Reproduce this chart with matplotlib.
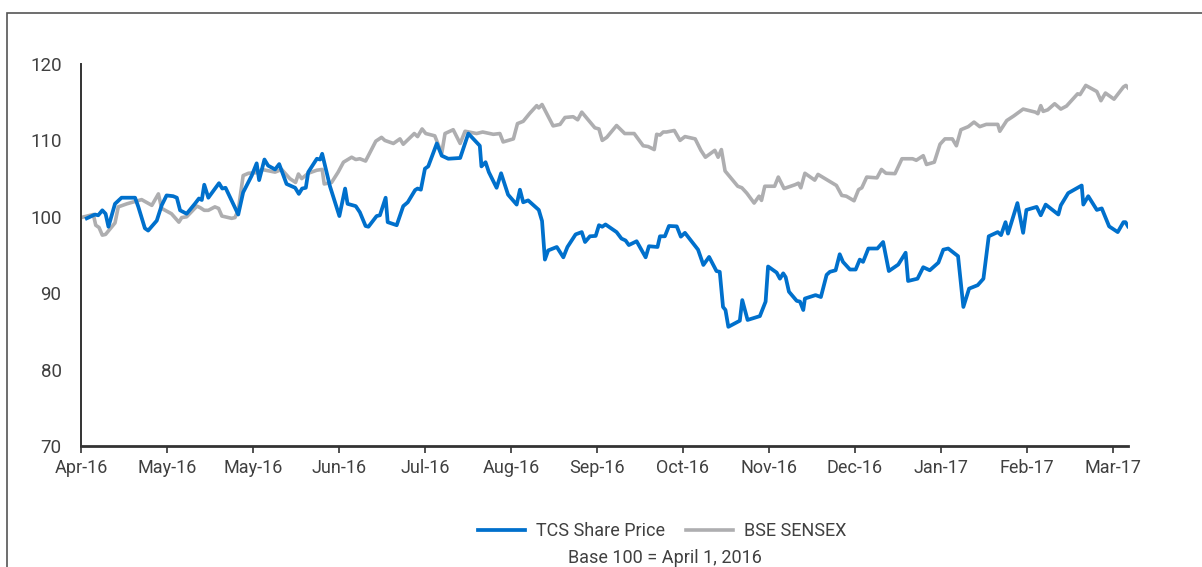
import matplotlib.pyplot as plt
from matplotlib.patches import Rectangle

# x = trading day since 1 Apr 2016, y = index (base 100)
tcs_x = [1.4, 3.4, 4.2, 5.2, 6.0, 6.7, 8.3, 9.9, 13.2, 14.0, 15.6, 16.4, 18.5, 19.7, 20.9,
         22.5, 23.4, 24.2, 25.8, 27.8, 28.8, 29.5, 30.1, 31.1, 33.7, 34.5, 35.3, 38.4, 39.6,
         41.7, 42.9, 43.5, 44.8, 45.7, 47.4, 48.4, 50.2, 52.3, 53.2, 54.0, 54.9, 55.5, 57.6,
         58.4, 58.9, 60.8, 63.1, 64.5, 65.1, 67.1, 68.1, 69.5, 70.2, 72.2, 73.0, 74.4, 74.9,
         77.1, 78.7, 79.8, 81.6, 82.2, 83.0, 84.0, 84.8, 86.9, 88.1, 89.7, 92.6, 94.6, 97.4,
         97.8, 98.8, 99.6, 101.5, 102.6, 104.3, 106.4, 107.2, 108.0, 109.2, 111.8, 112.6,
         113.3, 114.1, 116.2, 117.8, 118.8, 120.8, 122.3, 123.1, 124.3, 125.7, 126.5, 127.3,
         128.1, 130.8, 132.0, 133.0, 133.8, 135.7, 137.9, 138.7, 140.8, 141.4, 142.6, 143.6,
         145.5, 146.5, 147.5, 150.7, 152.0, 153.4, 155.2, 156.0, 156.8, 157.4, 158.1, 160.9,
         161.5, 162.8, 165.8, 167.2, 167.8, 169.9, 170.7, 171.5, 172.1, 172.9, 174.8, 175.6,
         176.4, 176.8, 179.4, 180.7, 182.1, 182.9, 184.3, 185.3, 186.1, 187.8, 189.2, 190.2,
         191.0, 192.3, 194.5, 195.9, 197.3, 199.6, 201.4, 202.0, 204.3, 205.7, 207.3, 209.4,
         210.6, 211.8, 214.2, 215.5, 216.9, 219.0, 220.4, 221.7, 223.9, 224.7, 225.8, 226.4,
         228.7, 230.1, 230.9, 233.4, 234.4, 235.6, 238.7, 239.3, 241.1, 244.4, 244.8, 246.0,
         248.1, 249.3, 251.1, 253.2, 254.6, 255.1, 255.7]
tcs_y = [99.8, 100.3, 100.2, 100.85, 100.4, 98.7, 101.7, 102.5, 102.5, 101.3, 98.5, 98.2, 99.5,
         101.5, 102.8, 102.7, 102.5, 100.85, 100.4, 101.7, 102.4, 102.2, 104.2, 102.5, 104.4,
         103.7, 103.8, 100.3, 103.2, 105.4, 107.0, 104.8, 107.5, 106.7, 106.2, 106.9, 104.3,
         103.8, 103.0, 103.7, 103.8, 105.85, 107.6, 107.5, 108.25, 104.0, 100.1, 103.7, 101.7,
         101.4, 100.6, 98.8, 98.7, 100.1, 100.2, 102.5, 99.3, 98.9, 101.4, 101.9, 103.5,
         103.7, 103.55, 106.3, 106.6, 109.6, 108.0, 107.6, 107.7, 110.9, 109.3, 106.6, 107.15,
         105.85, 103.8, 105.7, 102.9, 101.6, 103.55, 101.9, 102.15, 100.9, 99.45, 94.4, 95.6,
         96.05, 94.7, 96.05, 97.7, 98.0, 96.7, 97.45, 97.5, 98.9, 98.7, 99.0, 98.0, 97.15, 96.9,
         96.3, 96.8, 94.7, 96.15, 96.05, 97.45, 97.45, 98.8, 98.75, 97.4, 97.9, 95.7, 93.7,
         94.75, 92.9, 92.8, 88.2, 87.8, 85.6, 86.4, 89.1, 86.5, 87.0, 88.9, 93.5, 92.7, 91.9,
         92.6, 92.1, 90.2, 89.0, 88.9, 87.8, 89.3, 89.75, 89.5, 92.4, 92.8, 93.0, 95.1, 94.1,
         93.1, 93.1, 94.4, 94.1, 95.85, 95.85, 96.7, 92.9, 93.75, 95.3, 91.6, 91.9, 93.4, 93.0,
         94.0, 95.7, 95.85, 94.85, 88.2, 90.6, 91.05, 91.9, 97.45, 98.0, 97.6, 99.3, 97.8,
         101.8, 97.9, 100.9, 101.3, 100.2, 101.6, 100.3, 101.5, 103.1, 104.1, 101.6, 102.7,
         100.9, 101.1, 98.75, 98.0, 99.3, 99.3, 98.75]

sensex_x = [0.0, 2.2, 3.0, 3.6, 4.4, 5.2, 6.0, 8.3, 9.1, 11.2, 14.8, 17.3, 18.9, 19.7, 22.1,
            23.9, 24.6, 25.8, 28.3, 29.1, 30.1, 31.1, 32.7, 33.6, 34.4, 36.8, 37.6, 38.4,
            39.6, 40.9, 43.5, 44.1, 47.4, 49.0, 51.0, 52.4, 53.1, 53.9, 55.5, 57.6, 58.9,
            59.4, 61.2, 62.8, 64.1, 66.1, 67.1, 68.1, 69.5, 72.0, 73.4, 74.2, 76.3, 77.9,
            78.7, 81.4, 82.2, 83.3, 84.2, 86.4, 88.1, 88.9, 90.9, 92.6, 93.8, 96.6, 98.1,
            100.7, 102.3, 103.1, 105.6, 106.6, 108.0, 109.6, 111.3, 111.8, 112.6, 115.3,
            117.0, 118.2, 120.2, 121.3, 122.3, 125.5, 126.5, 127.3, 128.4, 130.8, 132.8,
            135.1, 137.3, 138.5, 140.0, 140.6, 141.4, 142.2, 143.0, 144.9, 146.3, 147.5,
            150.0, 151.4, 152.5, 154.8, 155.6, 156.4, 157.3, 160.4, 161.4, 162.6, 164.4,
            165.6, 166.2, 167.0, 169.4, 170.3, 171.7, 174.4, 175.2, 175.8, 176.8, 179.2,
            180.0, 182.0, 184.5, 185.8, 186.9, 188.8, 189.9, 190.7, 191.9, 194.4, 195.5,
            196.6, 198.8, 200.5, 203.1, 204.0, 205.7, 206.5, 208.4, 209.8, 211.0, 212.8,
            213.8, 214.9, 216.7, 218.1, 219.5, 221.1, 223.9, 224.4, 226.1, 227.8, 230.1,
            233.1, 233.7, 234.4, 235.0, 236.1, 237.8, 239.3, 240.7, 243.4, 244.0, 245.4,
            248.1, 249.1, 250.2, 252.3, 254.6, 255.2, 255.7]
sensex_y = [99.9, 100.2, 100.3, 98.9, 98.6, 97.6, 97.7, 99.2, 101.3, 101.7, 102.25, 101.5,
            103.0, 101.1, 100.4, 99.3, 99.9, 100.0, 101.4, 101.2, 100.85, 100.85, 101.3,
            101.1, 100.1, 99.8, 99.9, 100.85, 105.4, 105.7, 105.8, 106.2, 105.85, 106.2,
            105.0, 104.5, 105.6, 105.0, 105.7, 106.1, 106.2, 104.3, 104.5, 105.85, 107.15,
            107.8, 107.5, 107.6, 107.3, 109.9, 110.4, 110.0, 109.6, 110.2, 109.5, 110.9,
            110.5, 111.5, 110.9, 110.6, 108.3, 110.9, 111.4, 109.6, 111.2, 110.9, 111.1,
            110.8, 110.9, 109.8, 110.2, 112.2, 112.5, 113.55, 114.55, 114.25, 114.7, 111.9,
            112.1, 113.0, 113.1, 112.7, 113.7, 111.65, 111.5, 110.0, 110.4, 111.95, 110.9,
            110.9, 109.3, 109.2, 108.8, 110.8, 110.7, 111.1, 111.1, 111.3, 110.0, 110.5,
            110.2, 108.7, 107.8, 108.7, 107.8, 108.8, 106.0, 104.0, 103.8, 103.1, 101.8,
            102.7, 102.15, 104.0, 104.0, 105.2, 103.7, 104.2, 104.4, 103.8, 105.7, 104.8,
            105.55, 104.9, 104.1, 102.8, 102.7, 102.1, 103.55, 103.8, 105.2, 105.1, 106.2,
            105.7, 105.65, 107.6, 107.6, 107.4, 108.0, 106.85, 107.15, 109.5, 110.2, 110.2,
            109.3, 111.4, 111.8, 112.4, 111.8, 112.1, 112.1, 111.2, 112.6, 113.2, 114.1,
            113.7, 113.5, 114.55, 113.8, 114.0, 114.8, 114.1, 114.5, 116.1, 116.0, 117.2,
            116.4, 115.2, 116.2, 115.4, 117.0, 117.2, 116.9]

tick_pos = [0, 21, 42, 63, 84, 105, 126, 147, 168, 189, 210, 231, 252]
tick_labels = ["Apr-16", "May-16", "May-16", "Jun-16", "Jul-16", "Aug-16", "Sep-16",
               "Oct-16", "Nov-16", "Dec-16", "Jan-17", "Feb-17", "Mar-17"]

plt.rcParams['font.family'] = ['Roboto', 'DejaVu Sans']
text_col = "#404040"

fig = plt.figure(figsize=(12.02, 5.67), dpi=100)
ax = fig.add_axes([0.0674, 0.2134, 0.871, 0.6737])

ax.plot(sensex_x, sensex_y, color="#AEAEB0", lw=2.6, label="BSE SENSEX", zorder=2)
ax.plot(tcs_x, tcs_y, color="#0070CC", lw=2.7, label="TCS Share Price", zorder=3)

ax.set_xlim(0, 255.7)
ax.set_ylim(70, 120)
ax.set_yticks([70, 80, 90, 100, 110, 120])
ax.set_xticks(tick_pos)
ax.set_xticklabels(tick_labels)
ax.tick_params(axis="y", length=0, pad=14, labelsize=13.5, labelcolor=text_col)
ax.tick_params(axis="x", length=5, width=1.2, color="#333333", pad=4,
               labelsize=13, labelcolor=text_col)
for s in ["top", "right"]:
    ax.spines[s].set_visible(False)
ax.spines["left"].set_color("#333333")
ax.spines["left"].set_linewidth(1.4)
ax.spines["bottom"].set_color("#333333")
ax.spines["bottom"].set_linewidth(2)

handles, labels = ax.get_legend_handles_labels()
fig.legend(handles[::-1], labels[::-1], loc="center", bbox_to_anchor=(0.551, 0.063),
           ncol=2, frameon=False, fontsize=13, handlelength=2.6, handletextpad=0.6,
           columnspacing=1.15, labelcolor=text_col)
fig.text(0.553, 0.015, "Base 100 = April 1, 2016", ha="center", va="center",
         fontsize=13, color=text_col)

fig.patches.append(Rectangle((0.0058, -0.2), 1.2, 1.177, transform=fig.transFigure,
                             fill=False, edgecolor="#555555", lw=1.2))

fig.savefig("out.png", dpi=100)
